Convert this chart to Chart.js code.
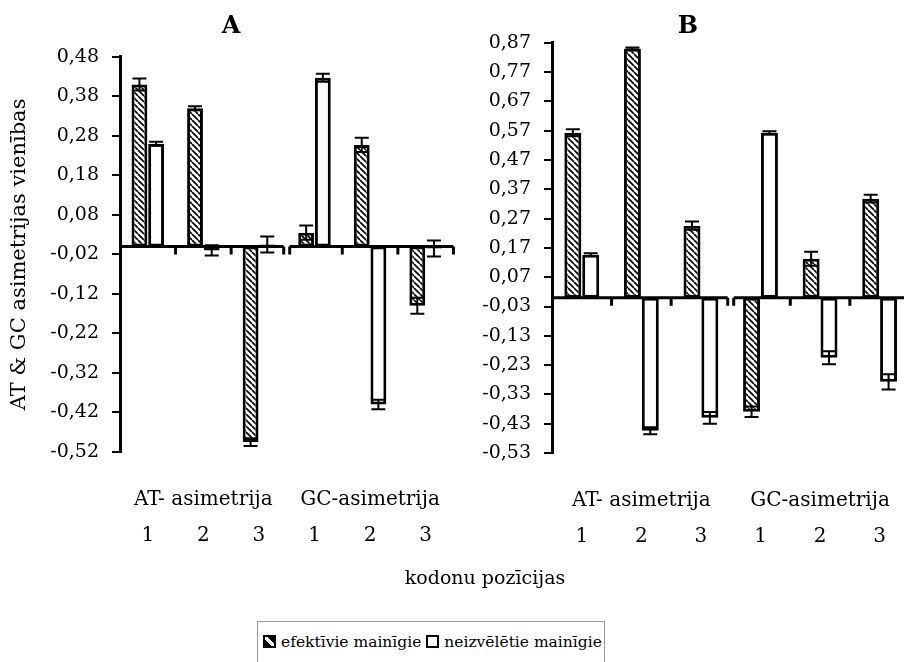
<!DOCTYPE html>
<html>
<head>
<meta charset="utf-8">
<script src="https://cdn.jsdelivr.net/npm/chart.js@4.4.1/dist/chart.umd.min.js"></script>
<style>
  body { margin: 0; background: #fff; width: 904px; height: 662px; overflow: hidden; position: relative;
         font-family: "DejaVu Serif", serif; color: #000; }
  canvas { position: absolute; top: 0; }
  #chartA { left: 0; }
  #chartB { left: 460px; }
  #xtitle { position: absolute; left: 335px; width: 300px; top: 564px; text-align: center; font-size: 19px; line-height: 26px; }
  #legend { position: absolute; left: 257px; top: 621px; width: 348px; height: 45px; border: 1px solid #999;
            font-size: 15.5px; line-height: 40px; white-space: nowrap; padding-left: 5px; box-sizing: border-box; }
  .sw { display: inline-block; width: 9px; height: 9px; border: 2px solid #000; margin-right: 5px; vertical-align: -1px; background: #fff; }
  .sw.hatch { background: linear-gradient(45deg, #000 38%, #fff 38%, #fff 62%, #000 62%); }
</style>
</head>
<body>
<canvas id="chartA" width="462" height="572"></canvas>
<canvas id="chartB" width="456" height="573"></canvas>
<div id="xtitle">kodonu pozīcijas</div>
<div id="legend"></div>
<script>
// kategorijas
const groups = ['AT- asimetrija', 'GC-asimetrija'];
const positions = ['1', '2', '3', '1', '2', '3'];
const seriesNames = ['efektīvie mainīgie', 'neizvēlētie mainīgie'];

// A
const effA    = [0.41, 0.35, -0.495, 0.035, 0.257, -0.15];
const effAErr = [0.015, 0.005, 0.01, 0.018, 0.018, 0.02];
const neiA    = [0.26, -0.01, 0.005, 0.427, -0.40, -0.005];
const neiAErr = [0.005, 0.013, 0.02, 0.01, 0.012, 0.02];
const ticksA  = [0.48, 0.38, 0.28, 0.18, 0.08, -0.02, -0.12, -0.22, -0.32, -0.42, -0.52];

// B
const effB    = [0.563, 0.85, 0.246, -0.389, 0.133, 0.338];
const effBErr = [0.012, 0.004, 0.014, 0.018, 0.024, 0.013];
const neiB    = [0.147, -0.454, -0.41, 0.563, -0.205, -0.287];
const neiBErr = [0.005, 0.012, 0.02, 0.005, 0.022, 0.026];
const ticksB  = [0.87, 0.77, 0.67, 0.57, 0.47, 0.37, 0.27, 0.17, 0.07, -0.03, -0.13, -0.23, -0.33, -0.43, -0.53];

const F = '"DejaVu Serif", serif';

function hatch() {
  const c = document.createElement('canvas');
  c.width = 6; c.height = 6;
  const g = c.getContext('2d');
  g.fillStyle = '#fff'; g.fillRect(0, 0, 6, 6);
  g.strokeStyle = '#000'; g.lineWidth = 1.7;
  [-6, 0, 6].forEach(o => { g.beginPath(); g.moveTo(o, 0); g.lineTo(o + 6, 6); g.stroke(); });
  return g.createPattern(c, 'repeat');
}

// nulles ass, sadalīta pa grupām
const brokenAxis = {
  id: 'brokenAxis',
  afterDatasetsDraw(chart) {
    const x = chart.scales.x, y0 = chart.scales.y.getPixelForValue(0), ctx = chart.ctx;
    ctx.save();
    ctx.strokeStyle = '#000'; ctx.lineWidth = 3;
    groups.forEach((g, k) => {
      let a = x.getPixelForValue(3 * k - 0.5), b = x.getPixelForValue(3 * k + 2.5);
      if (k > 0) a += 3;
      if (k < groups.length - 1) b -= 3;
      ctx.beginPath();
      ctx.moveTo(a, y0); ctx.lineTo(b, y0);
      [a, x.getPixelForValue(3 * k + 0.5), x.getPixelForValue(3 * k + 1.5), b].forEach(m => {
        if (m > x.left + 3) { ctx.moveTo(m, y0); ctx.lineTo(m, y0 + 8); }
      });
      ctx.stroke();
    });
    ctx.restore();
  }
};

const errorBars = {
  id: 'errorBars',
  afterDatasetsDraw(chart) {
    const y = chart.scales.y, ctx = chart.ctx;
    ctx.save();
    ctx.strokeStyle = '#000'; ctx.lineWidth = 2;
    chart.data.datasets.forEach((ds, i) => {
      chart.getDatasetMeta(i).data.forEach((bar, j) => {
        const v = ds.data[j], e = ds.errors[j];
        const y1 = y.getPixelForValue(v + e), y2 = y.getPixelForValue(v - e);
        ctx.beginPath();
        ctx.moveTo(bar.x, y1); ctx.lineTo(bar.x, y2);
        ctx.moveTo(bar.x - 7, y1); ctx.lineTo(bar.x + 7, y1);
        ctx.moveTo(bar.x - 7, y2); ctx.lineTo(bar.x + 7, y2);
        ctx.stroke();
      });
    });
    ctx.restore();
  }
};

function build(id, title, eff, effErr, nei, neiErr, yTicks, yWidth, padRight, titlePad, yTitle) {
  return new Chart(document.getElementById(id), {
    type: 'bar',
    data: {
      labels: positions.map((p, i) => [i % 3 === 1 ? groups[Math.floor(i / 3)] : '', p]),
      datasets: [
        { label: seriesNames[0], data: eff, errors: effErr, backgroundColor: hatch(), borderColor: '#000',
          borderWidth: 3, borderSkipped: false, categoryPercentage: 0.6, barPercentage: 0.95 },
        { label: seriesNames[1], data: nei, errors: neiErr, backgroundColor: '#fff', borderColor: '#000',
          borderWidth: 3, borderSkipped: false, categoryPercentage: 0.6, barPercentage: 0.95 }
      ]
    },
    options: {
      responsive: false, animation: false, devicePixelRatio: 1,
      layout: { padding: { left: 0, right: padRight, top: 0, bottom: 0 } },
      plugins: {
        legend: { display: false },
        tooltip: { enabled: false },
        title: { display: true, text: title, color: '#000', font: { family: F, size: 24, weight: 'bold' }, padding: titlePad }
      },
      scales: {
        x: {
          grid: { display: false, drawTicks: false },
          border: { display: false },
          ticks: { color: '#000', font: { family: F, size: 20, lineHeight: 1.8 }, padding: 30,
                   autoSkip: false, maxRotation: 0, minRotation: 0 },
          afterFit(s) { s.height = 120; }
        },
        y: {
          min: yTicks[yTicks.length - 1], max: yTicks[0],
          afterBuildTicks(s) { s.ticks = yTicks.map(v => ({ value: v })); },
          grid: { drawOnChartArea: false, drawTicks: true, tickLength: 8, color: '#000', lineWidth: 2 },
          border: { color: '#000', width: 3 },
          ticks: { color: '#000', font: { family: F, size: 19 }, padding: 13, autoSkip: false,
                   callback: v => v.toFixed(2).replace('.', ',') },
          title: { display: !!yTitle, text: yTitle || '', color: '#000', font: { family: F, size: 21 }, padding: { top: 7, bottom: 0 } },
          afterFit(s) { s.width = yWidth; }
        }
      }
    },
    plugins: [brokenAxis, errorBars]
  });
}

build('chartA', 'A', effA, effAErr, neiA, neiAErr, ticksA, 120, 0, { top: 12, bottom: 16 }, 'AT & GC asimetrijas vienības');
build('chartB', 'B', effB, effBErr, neiB, neiBErr, ticksB, 92, 0, { top: 12, bottom: 2 }, '');

document.getElementById('legend').innerHTML =
  '<span class="sw hatch"></span>' + seriesNames[0] + ' <span class="sw"></span>' + seriesNames[1];
</script>
</body>
</html>
